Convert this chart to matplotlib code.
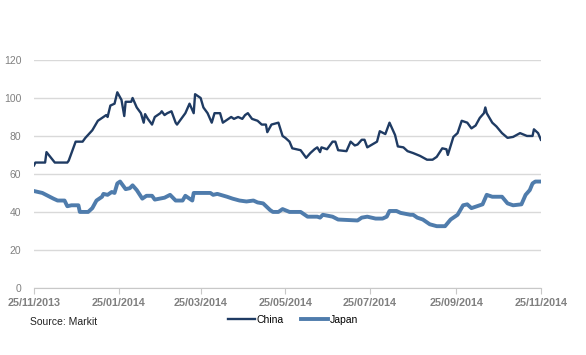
import pandas as pd
import matplotlib.pyplot as plt

plt.rcParams['font.family'] = ['Liberation Sans', 'DejaVu Sans']

start = pd.Timestamp('2013-11-25')

# days since 25/11/2013
china_days = [0, 1, 8, 9, 15, 24, 25, 30, 35, 37, 42, 46, 50, 52, 53, 55, 58, 60, 63, 65,
              66, 70, 71, 74, 77, 79, 80, 82, 85, 87, 91, 92, 94, 96, 99, 102, 103, 106, 109, 112,
              115, 116, 120, 122, 125, 128, 130, 134, 136, 140, 142, 144, 147, 150, 152, 154, 157, 161, 164, 167,
              168, 171, 176, 179, 181, 184, 186, 192, 196, 199, 202, 204, 206, 207, 211, 215, 217, 219, 225, 228,
              231, 233, 236, 238, 240, 247, 249, 253, 256, 260, 262, 266, 269, 273, 278, 283, 287, 290, 294, 297,
              298, 302, 305, 308, 312, 315, 318, 321, 324, 325, 326, 330, 333, 337, 341, 345, 350, 355, 359, 360,
              363, 365]
china = [64.5, 66, 66, 71.5, 66, 66, 67, 77, 77, 79, 83, 88, 90, 91, 90, 96, 97, 103, 99, 90.5,
         98, 98, 100, 95, 92, 87, 91.5, 89, 86, 90, 92, 93, 91, 92, 93, 87, 86, 89, 92, 97,
         92, 102, 100, 95, 92, 87, 92, 92, 87, 89, 90, 89, 90, 89, 91, 92, 89, 88, 86, 86,
         82, 86, 87, 80, 79, 77, 73.5, 72.5, 68.5, 71, 73, 74, 71.5, 74, 73, 77, 77, 72.5, 72, 77,
         75, 75.5, 78, 78, 74, 77, 82.5, 81, 87, 80.5, 74.5, 74, 72, 71, 69.5, 67.5, 67.5, 69, 73.5, 73,
         70, 79.5, 81.5, 88, 87, 84, 85.5, 89.5, 92, 95, 92, 87, 85, 81.5, 79, 79.5, 81.5, 80, 80, 83.5,
         81.5, 78]

japan_days = [0, 6, 14, 17, 22, 24, 27, 32, 33, 39, 42, 45, 49, 50, 53, 56, 58, 60, 62, 66,
              69, 71, 74, 78, 81, 85, 87, 94, 98, 102, 107, 109, 112, 114, 115, 127, 129, 132, 139, 143,
              148, 153, 158, 161, 165, 170, 172, 176, 179, 184, 192, 195, 197, 204, 206, 208, 215, 219, 233, 236,
              240, 246, 251, 254, 256, 261, 264, 271, 273, 276, 280, 285, 290, 296, 300, 305, 309, 312, 315, 319,
              323, 326, 330, 337, 341, 345, 351, 354, 357, 359, 361, 365]
japan = [51, 50, 47, 46, 46, 43, 43.5, 43.5, 40, 40, 42, 46, 48, 49.5, 49, 50.5, 50, 55, 56, 52,
         52.5, 54, 51.5, 47, 48.5, 48.5, 46.5, 47.5, 49, 46, 46, 48.5, 47, 46, 50, 50, 49, 49.5, 48, 47,
         46, 45.5, 46, 45, 44.5, 41, 40, 40, 41.5, 40, 40, 38.5, 37.5, 37.5, 37, 38.5, 37.5, 36, 35.5, 37,
         37.5, 36.5, 36.5, 37.5, 40.5, 40.5, 39.5, 38.5, 38.5, 37, 36, 33.5, 32.5, 32.5, 36, 38.5, 43.5, 44, 42, 43,
         44, 49, 48, 48, 44.5, 43.5, 44, 49, 51.5, 55, 56, 56]

tick_dates = ['2013-11-25', '2014-01-25', '2014-03-25', '2014-05-25',
              '2014-07-25', '2014-09-25', '2014-11-25']
tick_labels = ['25/11/2013', '25/01/2014', '25/03/2014', '25/05/2014',
               '25/07/2014', '25/09/2014', '25/11/2014']

china_x = [start + pd.Timedelta(days=d) for d in china_days]
japan_x = [start + pd.Timedelta(days=d) for d in japan_days]

fig = plt.figure(figsize=(5.86, 3.55), dpi=100)
ax = fig.add_axes([0.058, 0.189, 0.865, 0.642])

ax.plot(china_x, china, color='#1f3b63', lw=1.7, label='China', zorder=3)
ax.plot(japan_x, japan, color='#4f7cac', lw=2.8, label='Japan', zorder=2)

ax.set_ylim(0, 120)
ax.set_yticks(range(0, 121, 20))
ax.set_xlim(pd.Timestamp(tick_dates[0]), pd.Timestamp(tick_dates[-1]))
ax.set_xticks(pd.to_datetime(tick_dates))
ax.set_xticklabels(tick_labels)

ax.grid(axis='y', color='#d9d9d9', lw=1)
ax.set_axisbelow(True)
for s in ['top', 'right', 'left']:
    ax.spines[s].set_visible(False)
ax.spines['bottom'].set_color('#c8c8c8')
ax.tick_params(axis='y', length=0, pad=9, labelsize=7.5, labelcolor='#808080')
ax.tick_params(axis='x', length=4, color='#c8c8c8', pad=3, labelsize=7.8, labelcolor='#808080')
for t in ax.get_xticklabels():
    t.set_fontweight('bold')

fig.text(0.051, 0.085, 'Source: Markit', fontsize=7.5, color='#222222')
fig.legend(loc='center', bbox_to_anchor=(0.5, 0.099), ncol=2, frameon=False,
           fontsize=7.5, handlelength=2.6, handletextpad=0.2, columnspacing=1.6)

fig.savefig('out.png', dpi=100)
